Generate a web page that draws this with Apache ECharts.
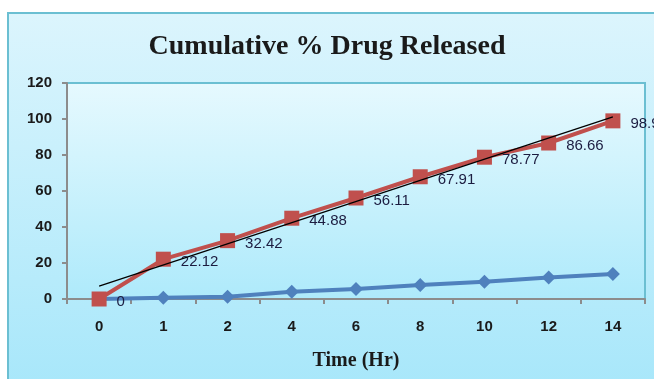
<!DOCTYPE html>
<html>
<head>
<meta charset="utf-8">
<script src="https://cdn.jsdelivr.net/npm/echarts@6/dist/echarts.min.js"></script>
<style>
html,body{margin:0;padding:0;background:#fff;}
#chart{width:654px;height:379px;}
</style>
</head>
<body>
<div id="chart"></div>
<script>
const titleText = 'Cumulative % Drug Released';
const xAxisName = 'Time (Hr)';
const categories = ['0', '1', '2', '4', '6', '8', '10', '12', '14'];
const releasedValues = [0, 22.12, 32.42, 44.88, 56.11, 67.91, 78.77, 86.66, 98.97];
const blueValues = [0, 0.7, 1.3, 4, 5.5, 7.8, 9.6, 12, 13.9];
const trendCategories = ['0', '14'];
const trendValues = [7.2, 101.2];
const yTicks = { min: 0, max: 120, interval: 20 };

const chart = echarts.init(document.getElementById('chart'));
const option = {
  animation: false,
  backgroundColor: '#ffffff',
  graphic: [{
    type: 'rect',
    z: -100,
    shape: { x: 8, y: 13, width: 680, height: 400 },
    style: {
      fill: new echarts.graphic.LinearGradient(0, 0, 0, 1, [
        { offset: 0, color: '#dcf5fd' },
        { offset: 1, color: '#a4e6fa' }
      ]),
      stroke: '#6bbfd2',
      lineWidth: 2
    }
  }],
  title: {
    text: titleText,
    left: 'center',
    top: 28,
    textStyle: { fontFamily: 'Liberation Serif', fontWeight: 'bold', fontSize: 28, color: '#1a1a1a' }
  },
  grid: {
    left: 67, top: 83, width: 578, height: 216,
    show: true,
    borderColor: '#6bbfd2',
    borderWidth: 2,
    backgroundColor: new echarts.graphic.LinearGradient(0, 0, 0, 1, [
      { offset: 0, color: '#e6f9fe' },
      { offset: 1, color: '#aeeafb' }
    ])
  },
  xAxis: {
    type: 'category',
    data: categories,
    boundaryGap: true,
    name: xAxisName,
    nameLocation: 'middle',
    nameGap: 52,
    nameTextStyle: { fontFamily: 'Liberation Serif', fontWeight: 'bold', fontSize: 20, color: '#1a1a1a' },
    axisLine: { lineStyle: { color: '#8c8c8c', width: 2 } },
    axisTick: { show: true, length: 5, lineStyle: { color: '#8c8c8c', width: 2 } },
    axisLabel: { margin: 20, fontFamily: 'Liberation Sans', fontWeight: 'bold', fontSize: 15, color: '#1a1a1a' },
    splitLine: { show: false }
  },
  yAxis: {
    type: 'value',
    min: yTicks.min, max: yTicks.max, interval: yTicks.interval,
    axisLine: { show: true, lineStyle: { color: '#8c8c8c', width: 2 } },
    axisTick: { show: true, length: 5, lineStyle: { color: '#8c8c8c', width: 2 } },
    axisLabel: { margin: 15, fontFamily: 'Liberation Sans', fontWeight: 'bold', fontSize: 15, color: '#1a1a1a' },
    splitLine: { show: false }
  },
  series: [
    {
      name: 'Time',
      type: 'line',
      data: blueValues,
      symbol: 'diamond',
      symbolSize: 14,
      lineStyle: { color: '#4f81bd', width: 4 },
      itemStyle: { color: '#4f81bd' },
      z: 2
    },
    {
      name: 'Cumulative % Drug Released',
      type: 'line',
      data: releasedValues,
      symbol: 'rect',
      symbolSize: 15,
      lineStyle: { color: '#c0504d', width: 4 },
      itemStyle: { color: '#c0504d' },
      label: {
        show: true,
        position: 'right',
        distance: 10,
        offset: [0, 3],
        fontFamily: 'Liberation Sans',
        fontSize: 15,
        color: '#1c1c40'
      },
      z: 3
    },
    {
      name: 'Linear trend',
      type: 'line',
      data: trendCategories.map((c, i) => [c, trendValues[i]]),
      symbol: 'none',
      lineStyle: { color: '#000000', width: 1.3 },
      silent: true,
      z: 4
    }
  ]
};
chart.setOption(option);
</script>
</body>
</html>
